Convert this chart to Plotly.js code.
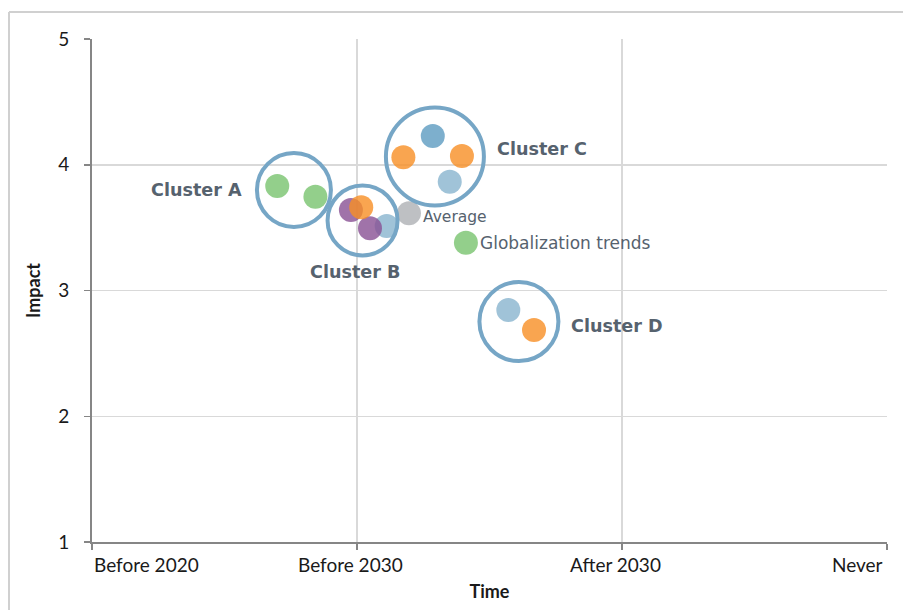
<!DOCTYPE html>
<html>
<head>
<meta charset="utf-8">
<script src="https://cdn.plot.ly/plotly-3.0.1.min.js"></script>
<style>
  html, body { margin: 0; padding: 0; background: #ffffff; }
  #chart { width: 903px; height: 610px; }
</style>
</head>
<body>
<div id="chart"></div>
<script>
// ---- Data ----
const xTickVals = [1, 2, 3, 4];
const xTickText = ["Before 2020", "Before 2030", "After 2030", "Never"];
const yTickVals = [1, 2, 3, 4, 5];

// individual items (time, impact) with their colour group
const pointX = [1.699, 1.843, 2.112, 1.977, 2.049, 2.016, 2.196, 2.411, 2.286, 2.175, 2.396, 2.350, 2.571, 2.668];
const pointY = [3.831, 3.746, 3.513, 3.640, 3.495, 3.662, 3.614, 3.380, 4.229, 4.059, 4.070, 3.865, 2.845, 2.686];
const pointGroup = ["green", "green", "lightblue", "purple", "purple", "orange", "grey", "green",
                    "darkblue", "orange", "orange", "lightblue", "lightblue", "orange"];

// clusters
const clusterNames = ["Cluster A", "Cluster B", "Cluster C", "Cluster D"];
const clusterX = [1.762, 2.021, 2.294, 2.611];
const clusterY = [3.799, 3.557, 4.066, 2.753];
const clusterSize = [74, 70, 98, 79];

// labelled single points
const labelNames = ["Average", "Globalization trends"];
const labelX = [2.196, 2.411];
const labelY = [3.614, 3.380];

// ---- Styles ----
const groupColors = {
  green: "rgb(120,195,110)",
  orange: "rgb(248,143,36)",
  lightblue: "rgb(136,180,206)",
  darkblue: "rgb(93,155,192)",
  purple: "rgb(136,80,148)",
  grey: "rgb(174,176,180)"
};
const labelColor = "#56626e";
const tickFont = { family: "Lato, 'Open Sans', sans-serif", size: 19, color: "#1a1a1a" };
const titleFont = { family: "Lato, sans-serif", size: 18, color: "#1a1a1a" };

const pointsTrace = {
  type: "scatter", mode: "markers",
  x: pointX, y: pointY,
  marker: {
    size: 24,
    color: pointGroup.map(g => groupColors[g]),
    opacity: 0.8,
    line: { width: 0 }
  },
  hoverinfo: "x+y", showlegend: false
};

const clusterTrace = {
  type: "scatter", mode: "markers",
  x: clusterX, y: clusterY, text: clusterNames,
  marker: {
    symbol: "circle-open",
    size: clusterSize,
    color: "rgb(118,166,198)",
    opacity: 1,
    line: { width: 4, color: "rgb(118,166,198)" }
  },
  hoverinfo: "text", showlegend: false
};

// cluster label placement (anchor relative to the circle)
const clusterLabelAnchor = [
  { xanchor: "right", yanchor: "middle", ax: -1 },
  { xanchor: "center", yanchor: "top", ax: 0 },
  { xanchor: "left", yanchor: "middle", ax: 1 },
  { xanchor: "left", yanchor: "middle", ax: 1 }
];
const clusterLabelShift = [[-13, 0], [-7, -40], [11, 7], [11, -4]];

const annotations = [];
clusterNames.forEach((name, i) => {
  const a = clusterLabelAnchor[i];
  const r = clusterSize[i] / 2;
  annotations.push({
    x: clusterX[i], y: clusterY[i], xref: "x", yref: "y",
    text: "<b>" + name + "</b>", showarrow: false,
    xanchor: a.xanchor, yanchor: a.yanchor,
    xshift: a.ax * r + clusterLabelShift[i][0],
    yshift: clusterLabelShift[i][1],
    font: { family: "'DejaVu Sans', sans-serif", size: 17.6, color: labelColor }
  });
});
const labelSizes = [15.5, 17];
const labelYShift = [-4, 0];
labelNames.forEach((name, i) => {
  annotations.push({
    x: labelX[i], y: labelY[i], xref: "x", yref: "y",
    text: name, showarrow: false, xanchor: "left", yanchor: "middle",
    xshift: 12, yshift: labelYShift[i],
    font: { family: "'DejaVu Sans', sans-serif", size: labelSizes[i], color: labelColor }
  });
});
// x tick labels (first left-aligned, last right-aligned, like the original)
xTickText.forEach((t, i) => {
  const anchor = i === 0 ? "left" : (i === xTickText.length - 1 ? "right" : "center");
  const shift = i === 0 ? 0 : (i === xTickText.length - 1 ? -2 : -7);
  annotations.push({
    x: xTickVals[i], y: 0, xref: "x", yref: "paper",
    text: t, showarrow: false, xanchor: anchor, yanchor: "top",
    xshift: shift, yshift: -9, font: tickFont
  });
});

const frameColor = "#d0d0d0";
const layout = {
  width: 903, height: 610,
  margin: { l: 92, r: 16, t: 39, b: 68 },
  paper_bgcolor: "#ffffff", plot_bgcolor: "#ffffff",
  showlegend: false,
  xaxis: {
    range: [1, 4], tickvals: xTickVals, ticktext: xTickText,
    showticklabels: false,
    showgrid: true, gridcolor: "#d9d9d9", gridwidth: 1.5,
    zeroline: false, showline: true, linecolor: "#868686", linewidth: 2,
    ticks: "outside", ticklen: 6, tickcolor: "#868686", tickwidth: 1.5,
    title: { text: "<b>Time</b>", font: titleFont, standoff: 36 },
    fixedrange: true
  },
  yaxis: {
    range: [1, 5], tickvals: yTickVals,
    showgrid: true, gridcolor: "#d9d9d9", gridwidth: 1.5,
    zeroline: false, showline: true, linecolor: "#868686", linewidth: 2,
    ticks: "outside", ticklen: 6, tickcolor: "#868686", tickwidth: 1.5,
    tickfont: tickFont, ticklabelstandoff: 11,
    title: { text: "<b>Impact</b>", font: titleFont, standoff: 13 },
    fixedrange: true
  },
  annotations: annotations,
  shapes: [
    { type: "line", xref: "paper", yref: "paper", x0: (9 - 92) / 795, x1: (9 - 92) / 795, y0: 1.0537, y1: -0.2, line: { color: frameColor, width: 2 } },
    { type: "line", xref: "paper", yref: "paper", x0: (9 - 92) / 795, x1: 1.1, y0: 1.0537, y1: 1.0537, line: { color: frameColor, width: 2 } }
  ]
};

Plotly.newPlot("chart", [pointsTrace, clusterTrace], layout, { displayModeBar: false, staticPlot: true });
</script>
</body>
</html>
